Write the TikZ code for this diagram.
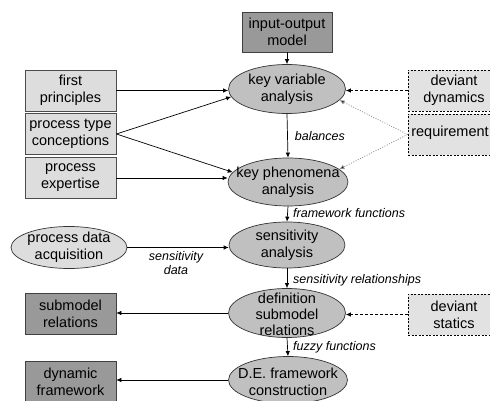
\documentclass[tikz,border=0pt]{standalone}
\usepackage{fontspec}
\setmainfont{Liberation Sans}
\usetikzlibrary{shapes.geometric,arrows.meta}
\definecolor{darkbox}{HTML}{999999}
\definecolor{ellfill}{HTML}{C0C0C0}
\definecolor{lightbox}{HTML}{DDDDDD}
\definecolor{dashfill}{HTML}{E2E2E2}
\definecolor{dotline}{HTML}{888888}
\begin{document}
\begin{tikzpicture}[x=1pt,y=-1pt,
  every node/.style={inner sep=0pt},
  maintext/.style={font=\fontsize{14.5}{17}\selectfont, align=center},
  lbl/.style={font=\fontsize{12.5}{14}\selectfont\itshape, align=center},
  ell/.style={ellipse, draw=black!80, line width=0.7pt, fill=ellfill},
  lbox/.style={rectangle, draw=black!70, line width=0.7pt, fill=lightbox, minimum width=91pt, minimum height=41pt, maintext},
  dbox/.style={rectangle, draw=black!75, line width=0.7pt, fill=darkbox, minimum width=91pt, minimum height=41pt, maintext},
  dashbox/.style={rectangle, draw=black, line width=0.7pt, dash pattern=on 2pt off 1.5pt, fill=dashfill, minimum width=92pt, minimum height=41pt, maintext},
  arr/.style={-{Latex[length=5pt,width=4.5pt]}, line width=0.7pt},
  dasharr/.style={arr, dash pattern=on 3pt off 2pt},
  dotarr/.style={arr, draw=dotline, dash pattern=on 1pt off 1.5pt, -{Latex[length=5pt,width=4.5pt,fill=black]}}
]
\useasboundingbox (0,0) rectangle (490,401);
\clip (0,0) rectangle (490,401);
\fill[white] (0,0) rectangle (490,401);

% central column
\node[dbox, minimum width=90pt, minimum height=40pt] (io) at (287,32) {input-output\\model};
\node[ell, minimum width=117pt, minimum height=49pt] (kv) at (287,89) {};
\node[maintext] (kvt) at (kv) {key variable\\analysis};
\node[ell, minimum width=120pt, minimum height=48pt] (kp) at (288,182) {};
\node[maintext] (kpt) at (kp) {key phenomena\\analysis};
\node[ell, minimum width=116pt, minimum height=46pt] (sa) at (287,245) {};
\node[maintext] (sat) at (sa) {sensitivity\\analysis};
\node[ell, minimum width=117pt, minimum height=49pt] (dsr) at (287,313) {};
\node[maintext, font=\fontsize{14.5}{16}\selectfont] (dsrt) at (287,314) {definition\\submodel\\relations};
\node[ell, minimum width=119pt, minimum height=47pt] (de) at (288,380) {};
\node[maintext] (det) at (288,382) {D.E. framework\\construction};

% left column
\node[lbox] (fp) at (70.5,90.5) {first\\principles};
\node[lbox] (ptc) at (70.5,134) {process type\\conceptions};
\node[lbox] (pe) at (70.5,178) {process\\expertise};
\node[ell, fill=lightbox, minimum width=116pt, minimum height=42pt] (pda) at (69,247.5) {};
\node[maintext] (pdat) at (pda) {process data\\acquisition};
\node[dbox] (sr) at (70.5,314) {submodel\\relations};
\node[dbox] (df) at (70.5,382) {dynamic\\framework};

% right column
\node[dashbox] (dd) at (454,90.5) {deviant\\dynamics};
\node[dashbox] (req) at (454,134.5) {};
\node[maintext] (reqt) at (450,133) {requirement};
\node[dashbox] (ds) at (454,314.5) {deviant\\statics};

% connectors
\draw[arr] (io.south) -- (kv.north);
\draw[arr] (kv.south) -- node[lbl, right=7pt] (lb) {balances} (kp.north);
\draw[arr] (kp.south) -- (sa.north);
\node[lbl, anchor=west] (lff) at (293,213) {framework functions};
\draw[arr] (sa.south) -- (dsr.north);
\node[lbl, anchor=west] (lsr) at (293,280) {sensitivity relationships};
\draw[arr] (dsr.south) -- (de.north);
\node[lbl, anchor=west] (lfz) at (293,347) {fuzzy functions};

\draw[arr] (fp.east) -- (kv.west |- fp.east);
\draw[arr] (ptc.east) -- (kv.188);
\draw[arr] (ptc.east) -- (kp.170);
\draw[arr] (pe.east) -- (kp.west |- pe.east);

\draw[arr] (pda.east) -- (sa.west |- pda.east);
\node[lbl] (lsd) at (176,263) {sensitivity\\data};

\draw[arr] (dsr.west) -- (sr.east |- dsr.west);
\draw[arr] (de.west) -- (df.east |- de.west);

\draw[dasharr] (dd.west) -- (kv.east |- dd.west);
\draw[dotarr] (req.west) -- (kv.-12);
\draw[dotarr] (req.west) -- (kp.14);
\draw[dasharr] (ds.west) -- (dsr.east |- ds.west);
\end{tikzpicture}
\end{document}
